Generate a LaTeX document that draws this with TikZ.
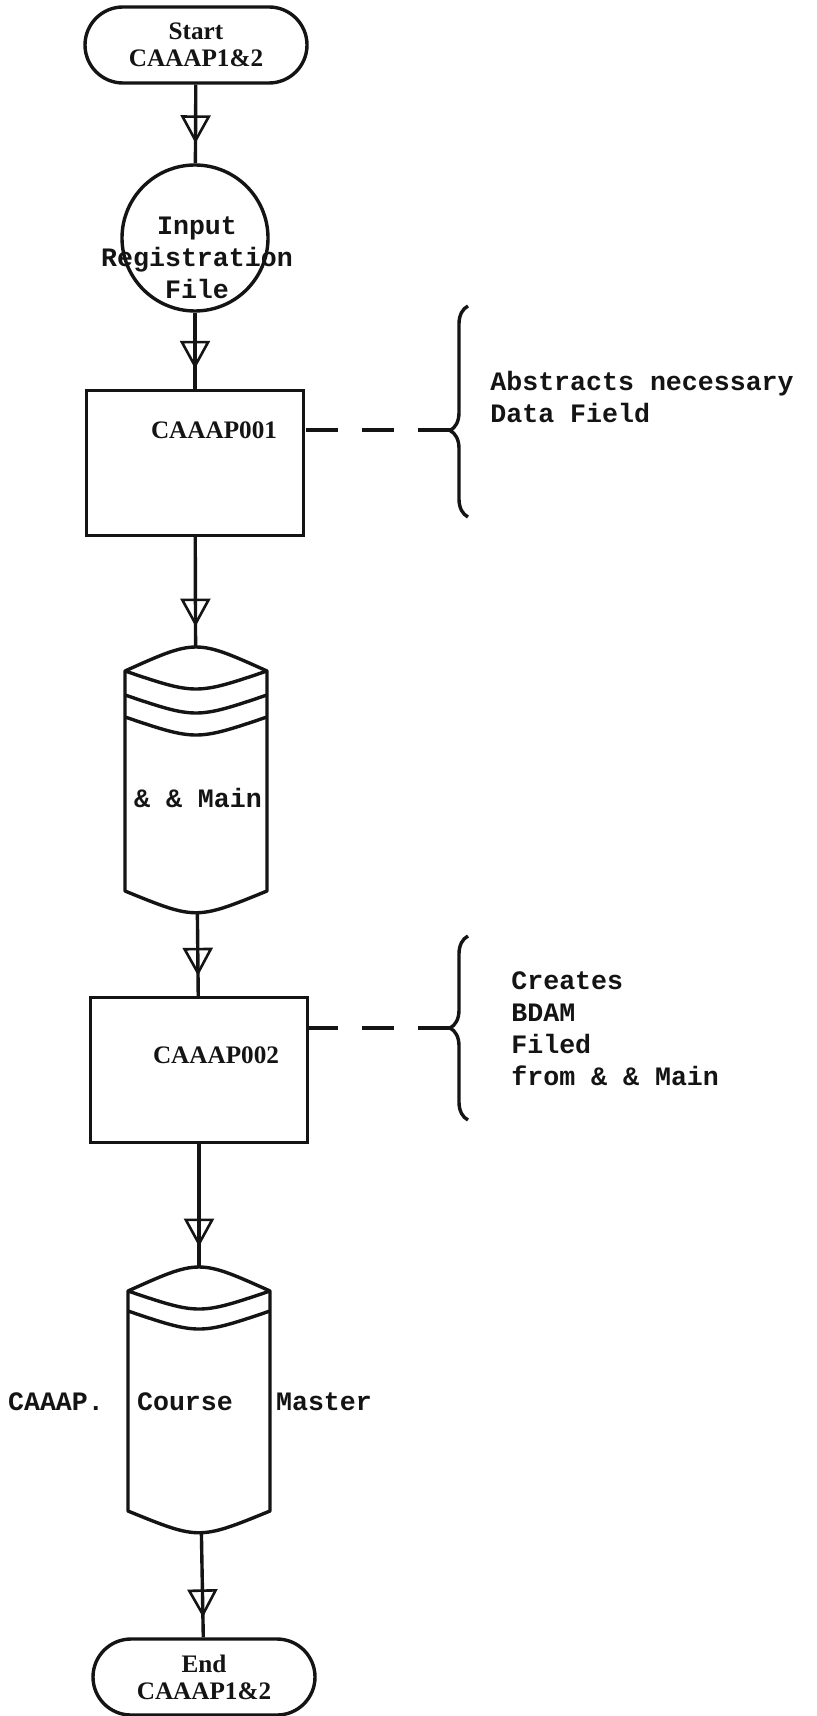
\documentclass[tikz,border=0pt]{standalone}
\usepackage{fontspec}
\newfontfamily\typefont{Liberation Mono}
\newfontfamily\printfont{Liberation Serif}
\usetikzlibrary{arrows.meta, decorations.markings, decorations.pathreplacing}
\definecolor{Ink}{HTML}{141414}
\tikzset{
    flowline/.style={Ink, line width=1.7pt},
    flowarrow/.style={flowline, postaction={decorate},
        decoration={markings, mark=at position -10pt with {\arrow{Triangle[open, length=14pt, width=15pt, line width=1.3pt]}}}},
    typed/.style={text=Ink, font=\typefont\bfseries\fontsize{13.3}{16}\selectfont, inner sep=0pt, align=left},
    printed/.style={text=Ink, font=\printfont\bfseries\fontsize{12.6}{13.5}\selectfont, inner sep=0pt, align=center},
    terminal/.style={flowline, draw, rectangle, rounded corners=19pt, minimum width=111pt, minimum height=38pt, inner sep=0pt},
    procbox/.style={flowline, draw, rectangle, minimum width=108.5pt, minimum height=72.5pt, inner sep=0pt},
    inputdisk/.style={flowline, draw, circle, minimum size=73pt, inner sep=0pt},
    disknode/.style={rectangle, minimum width=71pt, minimum height=133pt, inner sep=0pt},
    leader/.style={flowline, dash pattern=on 16pt off 12pt},
    bracket/.style={flowline, line join=round, decorate, decoration={brace, amplitude=9pt, aspect=#1}}
}
\NewDocumentCommand{\DiskFile}{O{(0,0)} m m}{
    \node[disknode] (#2) at #1 {};
    \begin{scope}[shift={#1}]
    \draw[flowline, line join=round] (-71,-109) .. controls (0,-141) .. (71,-109)
        -- (71,111) .. controls (0,140) .. (-71,111) -- cycle;
    \foreach \s in {#3}
        \draw[flowline] (-71,-109+\s) .. controls (0,-85+\s) .. (71,-109+\s);
    \end{scope}
}
\newcommand{\Sheet}{
\useasboundingbox (0,0) rectangle (816,1716);
\fill[white] (0,0) rectangle (816,1716);
\coordinate (tipA) at (450,430);
\coordinate (braceAlow) at (468,517);
\coordinate (braceAtop) at (468,306);
\coordinate (tipB) at (450,1028);
\coordinate (braceBlow) at (468,1120);
\coordinate (braceBtop) at (468,936);
}

\begin{document}
\begin{tikzpicture}[x=0.5pt, y=-0.5pt]
\Sheet

\node[terminal, printed] (start) at (196,45) {Start\\CAAAP1\&2};
\node[inputdisk] (inreg) at (195,238) {};
\node[typed, align=center] (inregtxt) at (197,258) {Input\\Registration\\File};

\node[procbox] (pA001) at (195,463) {};
\node[printed] (pA001txt) at (214,430) {CAAAP001};

\DiskFile[(196,780)]{disk1}{0,24,46}
\node[typed] (disk1txt) at (198,798) {\& \& Main};

\node[procbox] (pA002) at (199,1070) {};
\node[printed] (pA002txt) at (216,1055) {CAAAP002};

\DiskFile[(199,1400)]{disk2}{0,20}
\node[typed] (disk2left) at (56,1402) {CAAAP.};
\node[typed] (disk2txt) at (185,1402) {Course};
\node[typed] (disk2right) at (324,1402) {Master};

\node[terminal, printed] (finish) at (204,1677) {End\\CAAAP1\&2};

\draw[flowarrow] (start) -- (inreg);
\draw[flowarrow] (inreg) -- (pA001);
\draw[flowarrow] (pA001) -- (disk1);
\draw[flowarrow] (disk1) -- (pA002);
\draw[flowarrow] (pA002) -- (disk2);
\draw[flowarrow] (disk2) -- (finish);

\draw[leader] (tipA) -- (pA001.east |- tipA);
\draw[bracket=0.41] (braceAlow) -- (braceAtop);
\node[typed, anchor=west] (noteA) at (490,397) {Abstracts necessary\\Data Field};

\draw[leader] (tipB) -- (pA002.east |- tipB);
\draw[bracket=0.5] (braceBlow) -- (braceBtop);
\node[typed, anchor=west] (noteB) at (511,1029) {Creates\\BDAM\\Filed\\from \& \& Main};

\end{tikzpicture}
\end{document}
